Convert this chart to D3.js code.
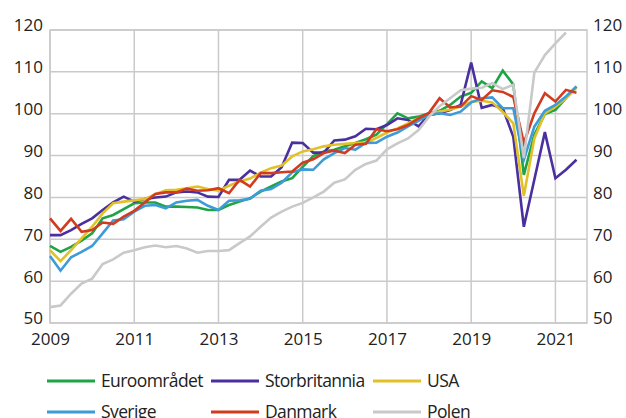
<!DOCTYPE html>
<html>
<head>
<meta charset="utf-8">
<script src="https://cdn.jsdelivr.net/npm/d3@7"></script>
<style>
  body { margin: 0; background: #fff; }
  svg text { font-family: "Open Sans", "Noto Sans", sans-serif; fill: #222; }
</style>
</head>
<body>
<svg id="chart" width="626" height="418"></svg>
<script>
// quarterly, 2009Q1 .. 2021Q3
const startYear = 2009;
const euroomradet = [68.4, 67.0, 68.2, 69.7, 71.4, 75.0, 75.8, 77.2, 78.6, 78.8, 78.8, 77.8, 77.8, 77.7, 77.6, 77.0,
  77.0, 78.2, 79.0, 79.8, 81.4, 82.6, 83.8, 84.6, 87.3, 89.9, 91.0, 91.4, 92.2, 93.0, 93.9, 95.0,
  97.5, 100.1, 98.9, 99.3, 100.1, 100.7, 102.1, 104.1, 105.0, 107.7, 106.1, 110.3, 107.0, 85.4, 95.0, 99.9, 100.9, 103.7, 106.5];
const storbritannia = [71.0, 71.0, 72.2, 73.7, 75.0, 77.0, 78.8, 80.2, 79.0, 79.6, 80.0, 80.2, 81.2, 81.4, 81.2, 80.2,
  80.1, 84.2, 84.2, 86.4, 85.0, 85.0, 87.2, 93.1, 93.0, 90.7, 90.7, 93.6, 93.8, 94.6, 96.4, 96.3,
  97.3, 98.9, 98.5, 97.0, 99.7, 100.1, 100.9, 102.1, 112.2, 101.4, 102.1, 101.3, 94.5, 73.0, 84.3, 95.6, 84.6, 86.6, 89.0];
const usa = [67.4, 64.8, 67.4, 70.2, 73.0, 76.2, 78.6, 79.0, 79.3, 79.6, 80.8, 81.7, 81.8, 82.2, 82.6, 82.0,
  81.6, 82.8, 83.8, 84.5, 85.9, 87.0, 87.6, 89.8, 91.0, 91.5, 92.2, 92.6, 92.8, 93.0, 93.1, 94.2,
  95.5, 96.5, 97.7, 98.9, 99.8, 100.5, 101.0, 101.7, 102.8, 103.1, 102.7, 100.4, 97.7, 80.4, 94.1, 100.1, 101.7, 103.7, 106.2];
const sverige = [66.0, 62.5, 65.7, 67.0, 68.4, 71.4, 74.5, 74.8, 76.6, 78.0, 78.2, 77.4, 78.8, 79.2, 79.4, 78.0,
  77.0, 79.2, 79.3, 79.7, 81.6, 82.0, 83.5, 86.0, 86.7, 86.6, 89.1, 90.6, 91.8, 91.4, 93.0, 93.1,
  94.5, 95.5, 97.0, 98.3, 99.7, 100.1, 99.7, 100.5, 102.7, 103.7, 103.9, 101.3, 101.3, 89.0, 96.9, 100.7, 102.1, 104.1, 106.5];
const danmark = [75.0, 72.0, 74.9, 71.8, 72.2, 74.0, 73.7, 75.4, 76.8, 78.8, 80.8, 81.2, 81.2, 82.1, 81.6, 81.7,
  82.2, 81.0, 84.2, 82.6, 85.8, 85.8, 86.0, 86.2, 88.3, 89.1, 90.6, 91.2, 90.6, 92.6, 92.8, 96.3,
  95.8, 96.3, 97.3, 98.9, 100.2, 103.7, 101.5, 101.7, 104.2, 103.3, 105.6, 105.2, 104.0, 93.0, 100.1, 104.9, 102.9, 105.7, 105.0];
// Polen ends 2021Q2
const polen = [53.8, 54.2, 57.0, 59.4, 60.6, 64.1, 65.2, 66.8, 67.4, 68.1, 68.5, 68.1, 68.4, 67.8, 66.8, 67.2,
  67.2, 67.4, 69.1, 70.7, 73.0, 75.2, 76.6, 77.8, 78.7, 80.0, 81.4, 83.5, 84.3, 86.6, 88.0, 88.8,
  91.5, 92.9, 94.1, 96.1, 99.3, 101.8, 103.7, 105.6, 106.0, 106.2, 107.3, 105.9, 106.9, 89.4, 109.8, 114.0, 116.8, 119.4];

const seriesNames = ["Euroområdet", "Storbritannia", "USA", "Sverige", "Danmark", "Polen"];
const seriesValues = [euroomradet, storbritannia, usa, sverige, danmark, polen];
const seriesColors = ["#1fa345", "#4a2f9e", "#e2c128", "#3d9bd8", "#d13b1f", "#c9c9c9"];
const yTicks = [50, 60, 70, 80, 90, 100, 110, 120];
const xTicks = [2009, 2011, 2013, 2015, 2017, 2019, 2021];

const svg = d3.select("#chart");
const margin = { top: 30, right: 39, bottom: 95, left: 50 };
const width = 626 - margin.left - margin.right;
const height = 418 - margin.top - margin.bottom;

const x = d3.scaleLinear().domain([2009, 2021.75]).range([0, width]);
const y = d3.scaleLinear().domain([50, 120]).range([height, 0]);

const g = svg.append("g").attr("transform", `translate(${margin.left},${margin.top})`);

// grid
g.append("g").selectAll("line").data(yTicks).join("line")
  .attr("x1", 0).attr("x2", width)
  .attr("y1", d => y(d)).attr("y2", d => y(d))
  .attr("stroke", "#cacaca").attr("stroke-width", 1.5);
g.append("g").selectAll("line").data(xTicks).join("line")
  .attr("x1", d => x(d)).attr("x2", d => x(d))
  .attr("y1", 0).attr("y2", height)
  .attr("stroke", "#cacaca").attr("stroke-width", 1.5);
g.append("rect").attr("width", width).attr("height", height)
  .attr("fill", "none").attr("stroke", "#cacaca").attr("stroke-width", 1.5);

// axes (text only)
const axisLeft = g.append("g").call(d3.axisLeft(y).tickValues(yTicks).tickSize(0).tickPadding(7));
const axisRight = g.append("g").attr("transform", `translate(${width},0)`)
  .call(d3.axisRight(y).tickValues(yTicks).tickSize(0).tickPadding(6));
const axisBottom = g.append("g").attr("transform", `translate(0,${height})`)
  .call(d3.axisBottom(x).tickValues(xTicks).tickFormat(d3.format("d")).tickSize(0).tickPadding(10));
[axisLeft, axisRight, axisBottom].forEach(a => {
  a.select(".domain").remove();
  a.selectAll("text").style("font-size", "17px").attr("fill", "#222")
    .style("font-family", '"Open Sans", "Noto Sans", sans-serif');
});
// labels sit a little above their grid line
axisLeft.selectAll("text").attr("dy", "0.05em");
axisRight.selectAll("text").attr("dy", "0.05em");

// lines
const line = d3.line()
  .x((d, i) => x(startYear + i / 4))
  .y(d => y(d));

g.selectAll(".series").data(seriesValues).join("path")
  .attr("class", "series")
  .attr("fill", "none")
  .attr("stroke", (d, i) => seriesColors[i])
  .attr("stroke-width", 2.6)
  .attr("stroke-linejoin", "miter")
  .attr("d", line);

// legend (second row is cut by the bottom edge, as in the source)
const legendX = [47, 211, 373];
const legendY = [381, 412];
const legend = svg.append("g");
seriesNames.forEach((name, i) => {
  const lx = legendX[i % 3], ly = legendY[Math.floor(i / 3)];
  legend.append("line").attr("x1", lx).attr("x2", lx + 48)
    .attr("y1", ly).attr("y2", ly)
    .attr("stroke", seriesColors[i]).attr("stroke-width", 3);
  legend.append("text").attr("x", lx + 54).attr("y", ly).attr("dy", "0.35em")
    .style("font-size", "17.5px").style("letter-spacing", "-0.6px").text(name);
});
</script>
</body>
</html>
